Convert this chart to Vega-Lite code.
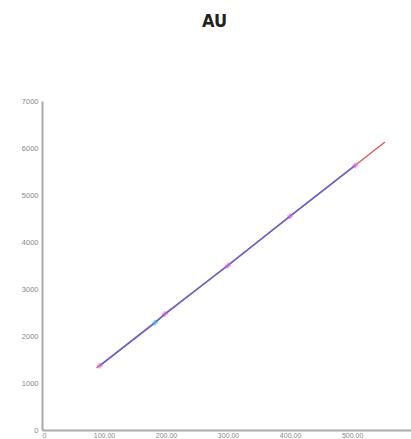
{
  "$schema": "https://vega.github.io/schema/vega-lite/v6.json",
  "autosize": "none",
  "padding": {"left": 42, "top": 101, "right": 0, "bottom": 9},
  "width": 369,
  "height": 329,
  "background": "white",
  "title": {"text": "AU", "font": "Liberation Sans Narrow, DejaVu Sans Condensed, sans-serif", "fontSize": 18, "fontWeight": "bold", "color": "#222", "offset": 66, "dx": -12},
  "config": {"view": {"stroke": null}},
  "datasets": {
    "pts": [
      {"x": 93, "y": 1365, "kind": "a"},
      {"x": 182, "y": 2280, "kind": "b"},
      {"x": 198, "y": 2470, "kind": "a"},
      {"x": 300, "y": 3500, "kind": "a"},
      {"x": 400, "y": 4550, "kind": "a"},
      {"x": 505, "y": 5630, "kind": "a"}
    ],
    "fit": [
      {"x": 88, "y": 1319},
      {"x": 553, "y": 6128}
    ]
  },
  "layer": [
    {
      "data": {"name": "fit"},
      "mark": {"type": "line", "color": "#e05a5a", "strokeWidth": 1.5},
      "encoding": {
        "x": {"field": "x", "type": "quantitative", "scale": {"domain": [0, 595], "nice": false},
              "axis": {"values": [0, 100, 200, 300, 400, 500], "labelExpr": "datum.value == 0 ? '0' : format(datum.value, '.2f')", "title": null, "grid": false, "ticks": false, "domainColor": "#aaa", "domainWidth": 2, "labelFontSize": 7, "labelColor": "#888", "labelPadding": 1}},
        "y": {"field": "y", "type": "quantitative", "scale": {"domain": [0, 7000], "nice": false},
              "axis": {"values": [0, 1000, 2000, 3000, 4000, 5000, 6000, 7000], "format": "d", "title": null, "grid": false, "ticks": false, "domainColor": "#aaa", "domainWidth": 2, "labelFontSize": 7.5, "labelColor": "#888", "labelPadding": 4}}
      }
    },
    {
      "data": {"name": "pts"},
      "mark": {"type": "line", "color": "#6363d8", "strokeWidth": 1.5},
      "encoding": {
        "x": {"field": "x", "type": "quantitative"},
        "y": {"field": "y", "type": "quantitative"}
      }
    },
    {
      "data": {"name": "pts"},
      "mark": {"type": "point", "shape": "cross", "size": 30, "filled": true, "opacity": 0.6},
      "encoding": {
        "x": {"field": "x", "type": "quantitative"},
        "y": {"field": "y", "type": "quantitative"},
        "color": {"field": "kind", "type": "nominal", "scale": {"domain": ["a", "b"], "range": ["#e060e0", "#30c8e8"]}, "legend": null}
      }
    }
  ]
}
